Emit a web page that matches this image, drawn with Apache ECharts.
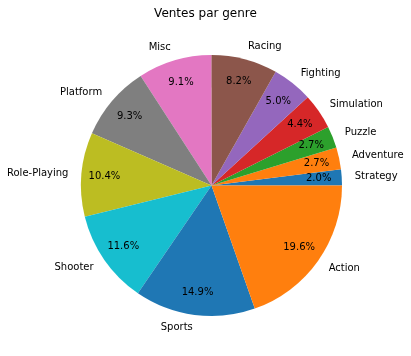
<!DOCTYPE html>
<html>
<head>
<meta charset="utf-8">
<script src="https://cdn.jsdelivr.net/npm/echarts@6/dist/echarts.min.js"></script>
<style>html,body{margin:0;padding:0;background:#fff;}#c{width:411px;height:356px;}</style>
</head>
<body>
<div id="c"></div>
<script>
const categories = ['Strategy','Adventure','Puzzle','Simulation','Fighting','Racing','Misc','Platform','Role-Playing','Shooter','Sports','Action'];
const shares = [2.0, 2.7, 2.7, 4.4, 5.0, 8.2, 9.1, 9.3, 10.4, 11.6, 14.9, 19.6];
const colors = ['#1f77b4','#ff7f0e','#2ca02c','#d62728','#9467bd','#8c564b','#e377c2','#7f7f7f','#bcbd22','#17becf','#1f77b4','#ff7f0e'];
const titleText = 'Ventes par genre';

const chart = echarts.init(document.getElementById('c'), null, {renderer:'canvas'});
const font = 'DejaVu Sans';
const cx = 211.5, cy = 185.5, R = 130.5;
const mainData = categories.map((n,i)=>({name:n, value:shares[i], itemStyle:{color:colors[i]}}));
const pctData = categories.map((n,i)=>({name:n, value:shares[i]}));
chart.setOption({
  animation:false,
  backgroundColor:'#fff',
  title:{text:titleText, left:'center', top:3, textStyle:{fontFamily:font, fontSize:12, fontWeight:'normal', color:'#000'}},
  series:[
    {
      type:'pie', center:[cx,cy], radius:[0,R], startAngle:0, clockwise:false,
      avoidLabelOverlap:false, silent:true,
      itemStyle:{borderWidth:0},
      label:{show:true, position:'outside', formatter:'{b}', fontFamily:font, fontSize:10, color:'#000', distanceToLabelLine:0, padding:[3,0,0,0]},
      labelLine:{show:false, length:R*0.1, length2:0},
      emphasis:{disabled:true},
      data:mainData
    },
    {
      type:'pie', center:[cx,cy], radius:[R*0.6,R], startAngle:0, clockwise:false,
      avoidLabelOverlap:false, silent:true,
      itemStyle:{color:'rgba(0,0,0,0)', borderWidth:0},
      label:{show:true, position:'inside', formatter:p=>p.value.toFixed(1)+'%', fontFamily:font, fontSize:10, color:'#000', padding:[3,0,0,0]},
      labelLine:{show:false},
      emphasis:{disabled:true},
      data:pctData
    }
  ]
});
</script>
</body>
</html>
